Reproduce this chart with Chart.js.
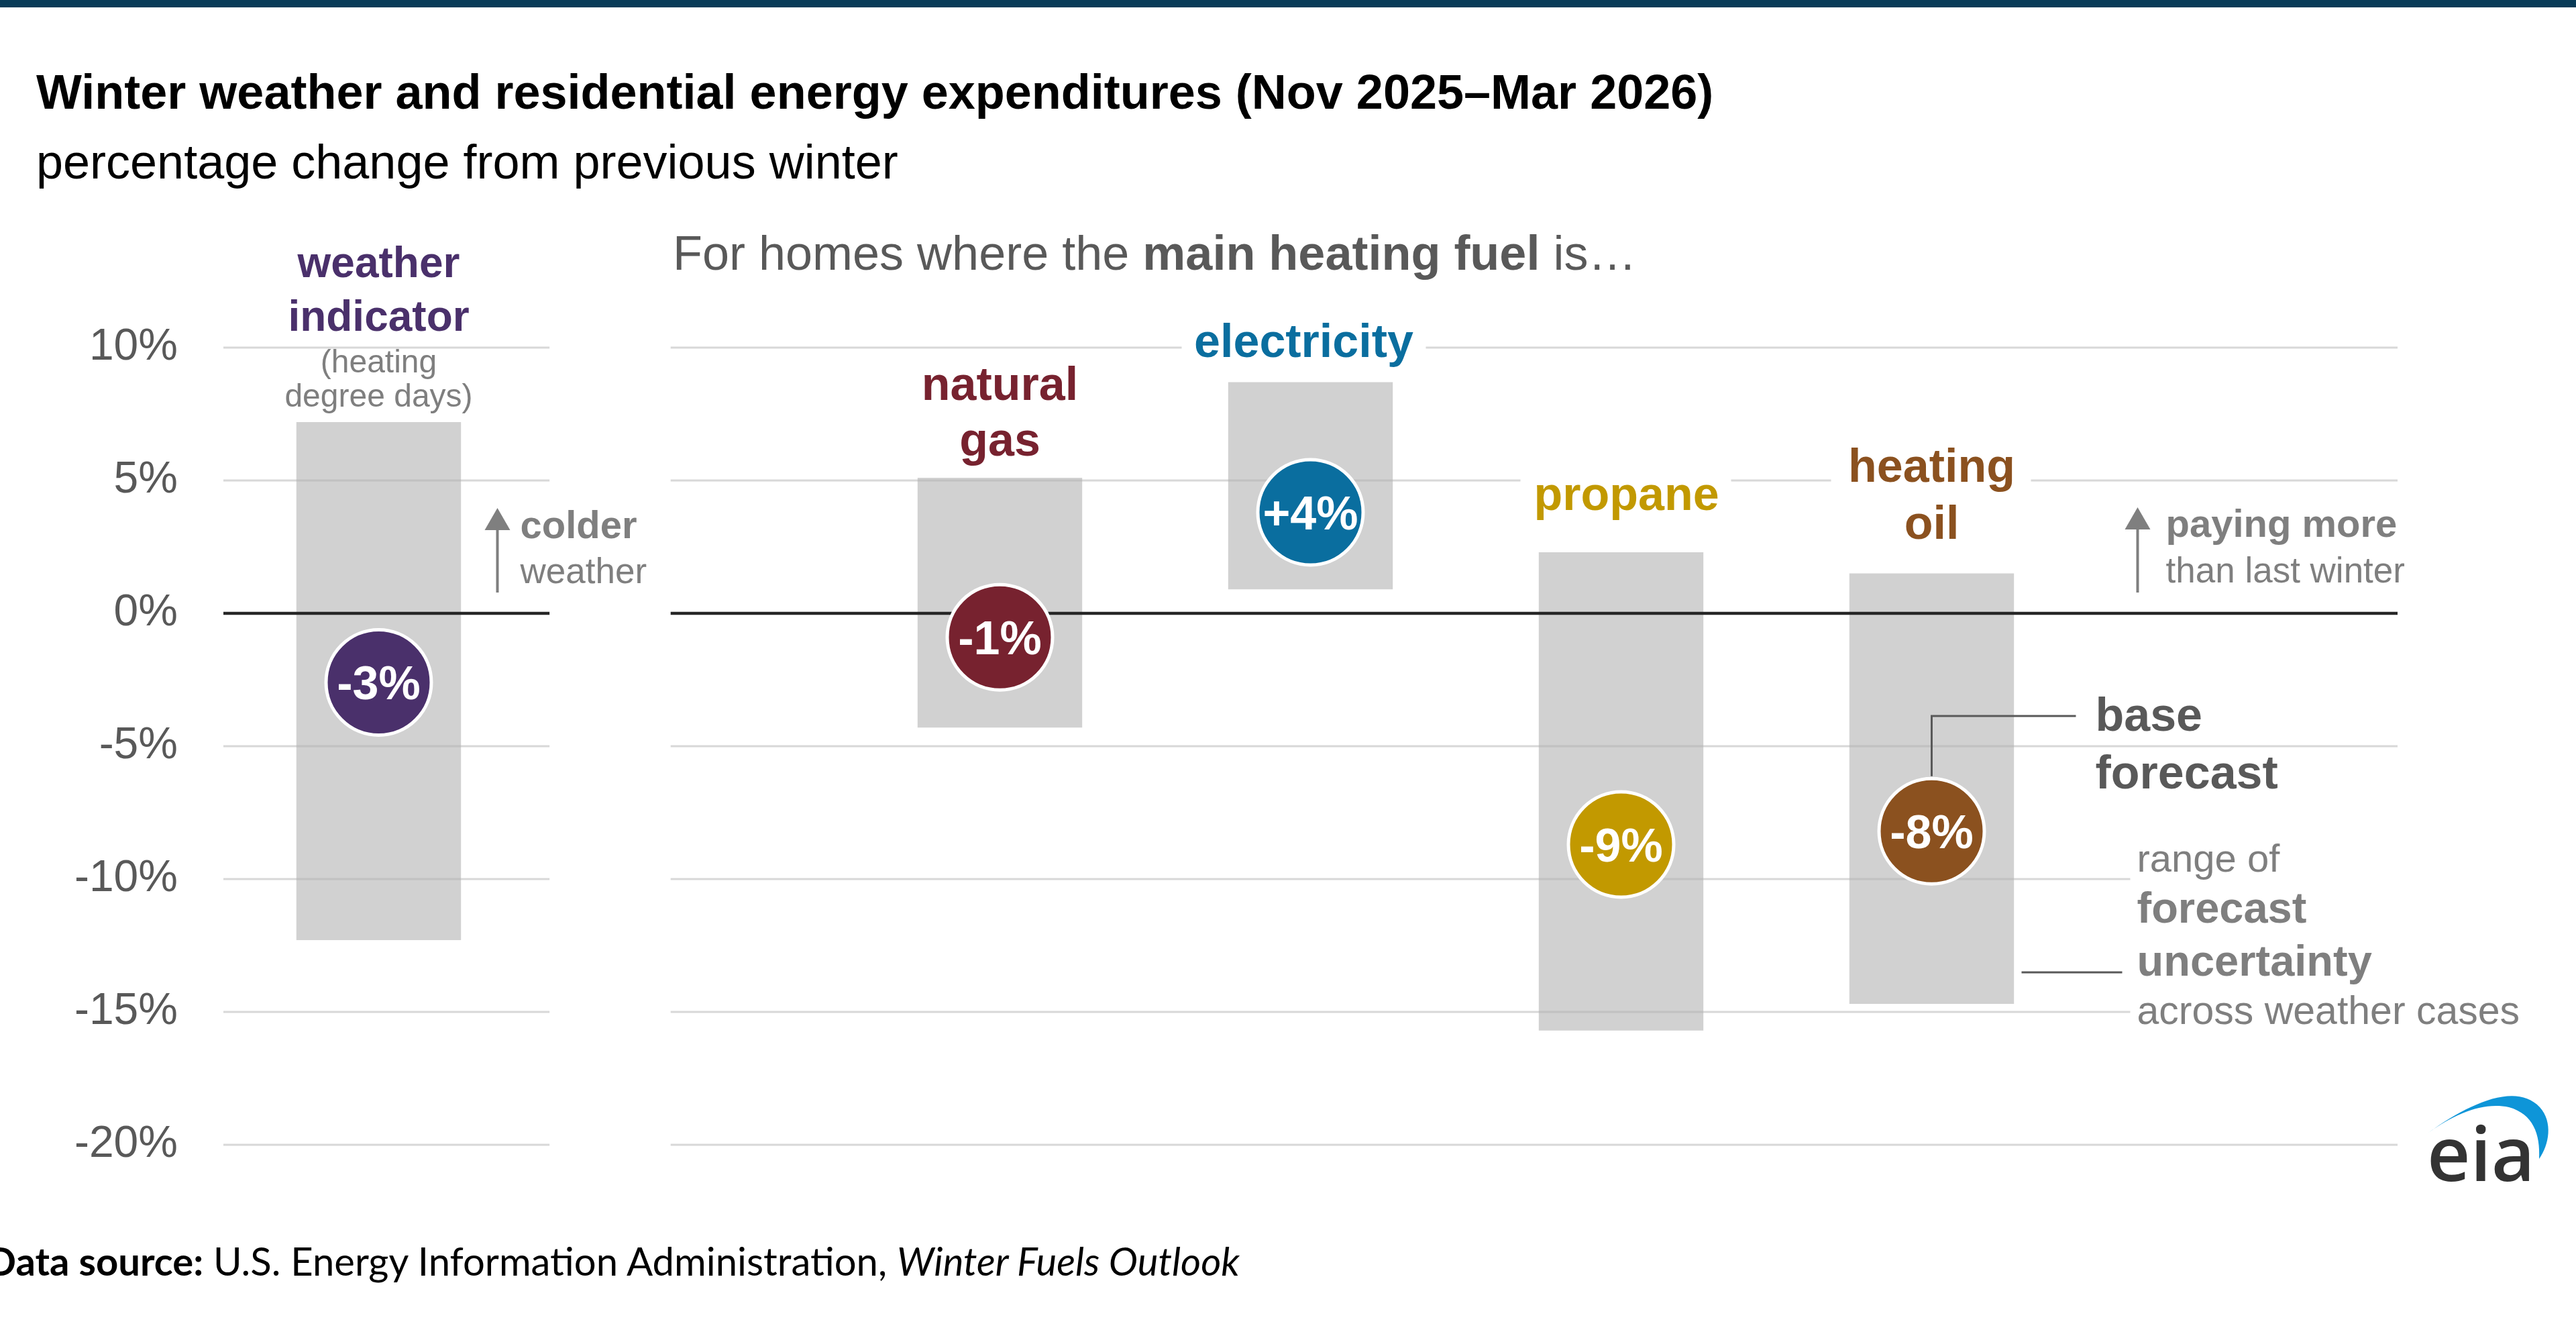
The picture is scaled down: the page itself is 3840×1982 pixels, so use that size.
<!DOCTYPE html>
<html>
<head>
  <meta charset="utf-8">
  <title>Winter weather and residential energy expenditures</title>
  <script src="https://cdn.jsdelivr.net/npm/chart.js"></script>
  <style>
    html, body {
      margin: 0;
      padding: 0;
      background: #fff;
    }
    body {
      width: 3840px;
      height: 1982px;
      position: relative;
      overflow: hidden;
      font-family: "Liberation Sans", Arial, sans-serif;
    }
    #topbar {
      position: absolute;
      left: 0; top: 0;
      width: 3840px; height: 11px;
      background: #083a57;
    }
    .txt {
      position: absolute;
      white-space: nowrap;
      line-height: 1;
      z-index: 2;
    }
    #title { left: 54px; top: 101px; font-size: 72px; font-weight: bold; color: #000; }
    #subtitle { left: 54px; top: 205px; font-size: 72px; color: #000; }
    #fuelNote { left: 1003px; top: 341px; font-size: 72px; color: #595959; }
    #source { left: -20px; top: 1850px; font-family: Lato, "Liberation Sans", sans-serif; font-size: 58px; color: #000; }
    canvas { position: absolute; left: 0; top: 0; z-index: 1; }
  </style>
</head>
<body>
  <div id="topbar"></div>
  <div id="title" class="txt">Winter weather and residential energy expenditures (Nov 2025–Mar 2026)</div>
  <div id="subtitle" class="txt">percentage change from previous winter</div>
  <div id="fuelNote" class="txt">For homes where the <b>main heating fuel</b> is…</div>
  <div id="source" class="txt"><b>Data source:</b> U.S. Energy Information Administration, <i>Winter Fuels Outlook</i></div>
  <canvas id="chart" width="3840" height="1982"></canvas>

  <script>
    // data (percent change from previous winter)
    const categories = ['weather indicator', '', 'natural gas', 'electricity', 'propane', 'heating oil', ' '];
    const rangeLow = [-12.3, null, -4.3, 0.9, -15.7, -14.7, null];
    const rangeHigh = [7.2, null, 5.1, 8.7, 2.3, 1.5, null];
    const baseForecast = [-2.6, null, -0.9, 3.8, -8.7, -8.2, null];
    const yTicks = [-20, -15, -10, -5, 0, 5, 10];

    // styles
    const FONT = '"Liberation Sans", Arial, sans-serif';
    const circleColors = ['#4a306b', null, '#77222f', '#0a6e9f', '#c29900', '#8b511f', null];
    const GRAY = '#7f7f7f';
    const DARK = '#595959';

    Chart.defaults.font.family = FONT;

    function font(spec) { return spec + ' ' + FONT; }

    function text(ctx, str, x, y, f, color, align) {
      ctx.font = font(f);
      ctx.fillStyle = color;
      ctx.textAlign = align || 'center';
      ctx.textBaseline = 'alphabetic';
      ctx.fillText(str, x, y);
    }

    function clearBehind(ctx, x0, x1, y0, y1) {
      ctx.fillStyle = '#fff';
      ctx.fillRect(x0, y0, x1 - x0, y1 - y0);
    }

    function arrow(ctx, x, yBottom, yTip) {
      ctx.strokeStyle = GRAY;
      ctx.fillStyle = GRAY;
      ctx.lineWidth = 4;
      ctx.beginPath();
      ctx.moveTo(x, yBottom);
      ctx.lineTo(x, yTip + 20);
      ctx.stroke();
      ctx.beginPath();
      ctx.moveTo(x, yTip);
      ctx.lineTo(x - 19, yTip + 33);
      ctx.lineTo(x + 19, yTip + 33);
      ctx.closePath();
      ctx.fill();
    }

    // gridlines drawn over the range bars, split into two panels
    const gridPlugin = {
      id: 'splitGrid',
      afterDatasetDraw(chart, args) {
        if (args.meta.type !== 'bar') return;
        const ctx = chart.ctx;
        const xs = chart.scales.x, ys = chart.scales.y;
        const area = chart.chartArea;
        const x0 = xs.getPixelForValue(0);
        const step = xs.getPixelForValue(1) - x0;
        const segs = [[area.left, x0 + 0.55 * step], [x0 + 0.94 * step, area.right]];
        ctx.save();
        yTicks.forEach(v => {
          const y = ys.getPixelForValue(v);
          ctx.strokeStyle = v === 0 ? '#262626' : 'rgba(178,178,178,0.5)';
          ctx.lineWidth = v === 0 ? 4.5 : 3;
          segs.forEach(s => {
            ctx.beginPath();
            ctx.moveTo(s[0], y);
            ctx.lineTo(s[1], y);
            ctx.stroke();
          });
        });
        ctx.restore();
      }
    };

    const labelPlugin = {
      id: 'labels',
      afterDatasetsDraw(chart) {
        const ctx = chart.ctx;
        const xs = chart.scales.x, ys = chart.scales.y;
        const cx = i => xs.getPixelForValue(i);
        const top = i => ys.getPixelForValue(rangeHigh[i]);
        ctx.save();

        // values in the circles
        const pts = chart.getDatasetMeta(0).data;
        baseForecast.forEach((v, i) => {
          if (v === null) return;
          const r = Math.round(v);
          const s = (r > 0 ? '+' : '') + r + '%';
          text(ctx, s, pts[i].x, pts[i].y + 25, 'bold 70px', '#fff');
        });

        // category names above the bars
        let x = cx(0), t = top(0);
        text(ctx, 'weather', x, t - 216, 'bold 64px', circleColors[0]);
        text(ctx, 'indicator', x, t - 136, 'bold 64px', circleColors[0]);
        text(ctx, '(heating', x, t - 74, '48px', GRAY);
        text(ctx, 'degree days)', x, t - 23, '48px', GRAY);

        x = cx(2); t = top(2);
        text(ctx, 'natural', x, t - 116, 'bold 70px', circleColors[2]);
        text(ctx, 'gas', x, t - 33, 'bold 70px', circleColors[2]);

        x = cx(3); t = top(3);
        clearBehind(ctx, x - 192, x + 172, t - 100, t - 18);
        text(ctx, 'electricity', x - 10, t - 37, 'bold 70px', circleColors[3]);

        x = cx(4); t = top(4);
        clearBehind(ctx, x - 150, x + 164, t - 120, t - 40);
        text(ctx, 'propane', x + 8, t - 63, 'bold 70px', circleColors[4]);

        x = cx(5); t = top(5);
        clearBehind(ctx, x - 150, x + 148, t - 200, t - 118);
        text(ctx, 'heating', x, t - 137, 'bold 70px', circleColors[5]);
        text(ctx, 'oil', x, t - 52, 'bold 70px', circleColors[5]);

        // colder weather note
        const y0 = ys.getPixelForValue(0);
        arrow(ctx, cx(0) + 177, y0 - 31, y0 - 157);
        text(ctx, 'colder', cx(0) + 211, y0 - 112, 'bold 58px', GRAY, 'left');
        text(ctx, 'weather', cx(0) + 211, y0 - 45, '53px', GRAY, 'left');

        // paying more note
        arrow(ctx, cx(5) + 307, y0 - 31, y0 - 158);
        text(ctx, 'paying more', cx(5) + 349, y0 - 114, 'bold 58px', GRAY, 'left');
        text(ctx, 'than last winter', cx(5) + 349, y0 - 46, '53px', GRAY, 'left');

        // base forecast leader
        const p = pts[5];
        ctx.strokeStyle = DARK;
        ctx.lineWidth = 3;
        ctx.beginPath();
        ctx.moveTo(p.x, p.y - 82);
        ctx.lineTo(p.x, 1067);
        ctx.lineTo(p.x + 215, 1067);
        ctx.stroke();
        text(ctx, 'base', p.x + 244, 1089, 'bold 70px', DARK, 'left');
        text(ctx, 'forecast', p.x + 244, 1175, 'bold 70px', DARK, 'left');

        // range of forecast uncertainty
        const lx = xs.getPixelForValue(5) + 306;
        clearBehind(ctx, lx - 10, chart.width, 1250, 1545);
        ctx.beginPath();
        ctx.moveTo(lx - 172, 1449);
        ctx.lineTo(lx - 22, 1449);
        ctx.stroke();
        text(ctx, 'range of', lx, 1299, '58px', GRAY, 'left');
        text(ctx, 'forecast', lx, 1375, 'bold 65px', GRAY, 'left');
        text(ctx, 'uncertainty', lx, 1454, 'bold 65px', GRAY, 'left');
        text(ctx, 'across weather cases', lx, 1526, '59px', GRAY, 'left');

        // eia logo
        ctx.fillStyle = '#0e95d8';
        ctx.beginPath();
        ctx.moveTo(3620, 1688);
        ctx.bezierCurveTo(3680, 1645, 3750, 1612, 3786, 1650);
        ctx.bezierCurveTo(3806, 1672, 3800, 1706, 3785, 1727);
        ctx.bezierCurveTo(3787, 1690, 3776, 1660, 3740, 1650);
        ctx.bezierCurveTo(3700, 1642, 3660, 1660, 3620, 1688);
        ctx.closePath();
        ctx.fill();
        ctx.font = '600 112px "Open Sans", sans-serif';
        ctx.fillStyle = '#333';
        ctx.textAlign = 'left';
        ctx.fillText('eia', 3618, 1760);

        ctx.restore();
      }
    };

    new Chart(document.getElementById('chart'), {
      data: {
        labels: categories,
        datasets: [
          {
            type: 'line',
            label: 'base forecast',
            data: baseForecast,
            showLine: false,
            pointRadius: 78.5,
            pointBackgroundColor: circleColors,
            pointBorderColor: '#fff',
            pointBorderWidth: 5,
            order: 1
          },
          {
            type: 'bar',
            label: 'range of forecast uncertainty',
            data: categories.map((c, i) => rangeLow[i] === null ? null : [rangeLow[i], rangeHigh[i]]),
            backgroundColor: '#d1d1d1',
            categoryPercentage: 1,
            barPercentage: 0.53,
            order: 2
          }
        ]
      },
      options: {
        responsive: false,
        devicePixelRatio: 1,
        animation: false,
        events: [],
        layout: { padding: { left: 0, right: 266, top: 518, bottom: 276 } },
        plugins: {
          legend: { display: false },
          tooltip: { enabled: false }
        },
        scales: {
          x: { display: false },
          y: {
            min: -20,
            max: 10,
            afterFit: s => { s.width = 333; },
            grid: { display: false, drawTicks: false },
            border: { display: false },
            ticks: {
              stepSize: 5,
              padding: 68,
              color: '#595959',
              font: { size: 66 },
              callback: v => v + '%'
            }
          }
        }
      },
      plugins: [gridPlugin, labelPlugin]
    });
  </script>
</body>
</html>
